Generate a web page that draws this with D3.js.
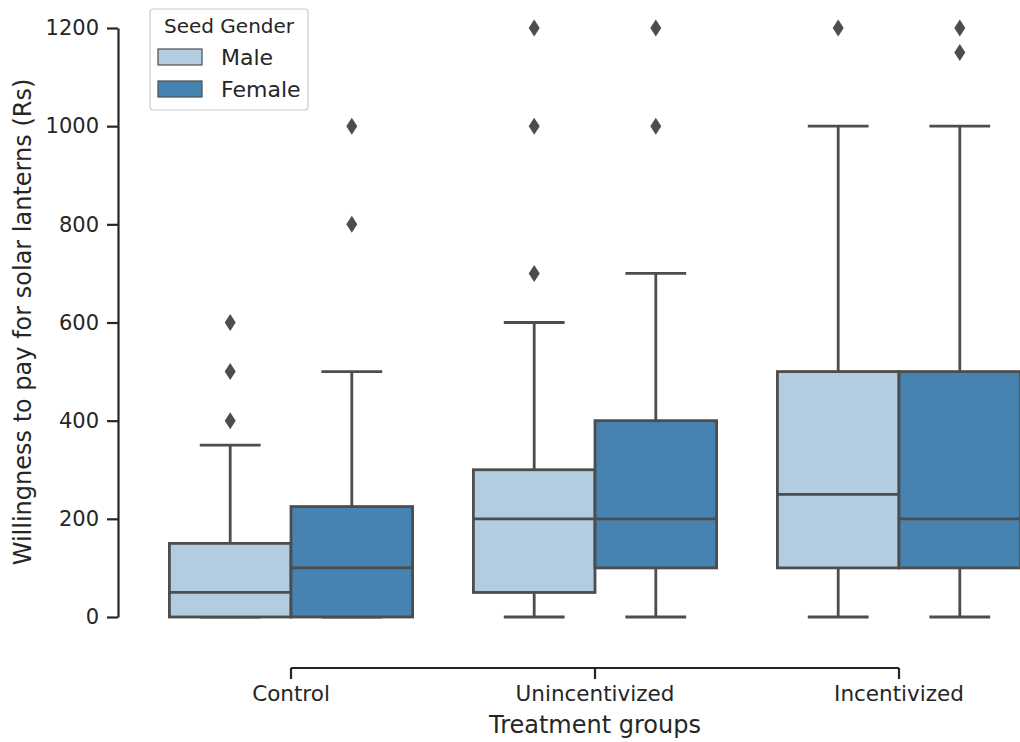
<!DOCTYPE html>
<html>
<head>
<meta charset="utf-8">
<script src="https://cdn.jsdelivr.net/npm/d3@7"></script>
<style>
  body { margin: 0; background: #fff; }
  text { font-family: "DejaVu Sans", sans-serif; fill: #262626; }
</style>
</head>
<body>
<div id="chart"></div>
<script>
var groups  = ["Control", "Unincentivized", "Incentivized"];
var genders = ["Male", "Female"];
var colors  = ["#b3cde0", "#4783b1"];
var yTicks  = [0, 200, 400, 600, 800, 1000, 1200];

// one entry per group, [Male, Female]
var q1        = [[0, 0],     [50, 100],  [100, 100]];
var medians   = [[50, 100],  [200, 200], [250, 200]];
var q3        = [[150, 225], [300, 400], [500, 500]];
var whiskLow  = [[0, 0],     [0, 0],     [0, 0]];
var whiskHigh = [[350, 500], [600, 700], [1000, 1000]];
var outliers  = [
  [[400, 500, 600], [800, 1000]],
  [[700, 1000, 1200], [1000, 1200]],
  [[1200], [1150, 1200]]
];

var W = 1020, H = 742;
var lineCol = "#4d4d4d";
var lw = 2.8;

var svg = d3.select("#chart").append("svg")
  .attr("width", W)
  .attr("height", H);

var x = d3.scaleBand()
  .domain(groups)
  .range([139, 1051])
  .paddingInner(0);

var xHue = d3.scaleBand()
  .domain(genders)
  .range([0, x.bandwidth()])
  .paddingInner(0)
  .paddingOuter(0.25);

var y = d3.scaleLinear()
  .domain([0, 1200])
  .range([617, 28]);

// boxes
var boxes = [];
groups.forEach(function(g, i) {
  genders.forEach(function(s, j) {
    boxes.push({
      group: g, gender: s, color: colors[j],
      q1: q1[i][j], med: medians[i][j], q3: q3[i][j],
      lo: whiskLow[i][j], hi: whiskHigh[i][j], out: outliers[i][j]
    });
  });
});

var bw = xHue.bandwidth();

var box = svg.append("g").selectAll("g")
  .data(boxes)
  .enter()
  .append("g")
    .attr("transform", function(d) {
      return "translate(" + (x(d.group) + xHue(d.gender)) + ",0)";
    });

// whiskers
box.append("line")
  .attr("x1", bw / 2).attr("x2", bw / 2)
  .attr("y1", function(d) { return y(d.q3); })
  .attr("y2", function(d) { return y(d.hi); });
box.append("line")
  .attr("x1", bw / 2).attr("x2", bw / 2)
  .attr("y1", function(d) { return y(d.q1); })
  .attr("y2", function(d) { return y(d.lo); });
// caps
box.append("line")
  .attr("x1", bw / 4).attr("x2", bw * 3 / 4)
  .attr("y1", function(d) { return y(d.hi); })
  .attr("y2", function(d) { return y(d.hi); });
box.append("line")
  .attr("x1", bw / 4).attr("x2", bw * 3 / 4)
  .attr("y1", function(d) { return y(d.lo); })
  .attr("y2", function(d) { return y(d.lo); });

box.selectAll("line")
  .style("stroke", lineCol)
  .style("stroke-width", lw);

box.append("rect")
  .attr("x", 0)
  .attr("width", bw)
  .attr("y", function(d) { return y(d.q3); })
  .attr("height", function(d) { return y(d.q1) - y(d.q3); })
  .style("fill", function(d) { return d.color; })
  .style("stroke", lineCol)
  .style("stroke-width", lw);

box.append("line")
  .attr("x1", 0).attr("x2", bw)
  .attr("y1", function(d) { return y(d.med); })
  .attr("y2", function(d) { return y(d.med); })
  .style("stroke", lineCol)
  .style("stroke-width", lw);

// outliers (thin diamonds)
box.selectAll("path.out")
  .data(function(d) { return d.out; })
  .enter()
  .append("path")
    .attr("class", "out")
    .attr("d", function(v) {
      var cx = bw / 2, cy = y(v);
      return "M" + cx + "," + (cy - 8.5) + "L" + (cx + 5.5) + "," + cy +
             "L" + cx + "," + (cy + 8.5) + "L" + (cx - 5.5) + "," + cy + "Z";
    })
    .style("fill", lineCol);

// y axis (trimmed spine)
var yAxis = svg.append("g")
  .attr("transform", "translate(118,0)")
  .call(d3.axisLeft(y).tickValues(yTicks).tickFormat(d3.format("d"))
    .tickSize(11).tickPadding(8).tickSizeOuter(0));
yAxis.select(".domain").style("stroke", "#262626").style("stroke-width", 2.2);
yAxis.selectAll(".tick line").style("stroke", "#262626").style("stroke-width", 2.2);
yAxis.selectAll(".tick text").style("font-size", "21px").style("fill", "#262626")
  .attr("font-family", "DejaVu Sans");

// x axis (trimmed spine)
var xAxis = svg.append("g")
  .attr("transform", "translate(0,668)")
  .call(d3.axisBottom(x).tickSize(11).tickPadding(7).tickSizeOuter(0));
xAxis.select(".domain")
  .attr("d", "M" + (x(groups[0]) + x.bandwidth() / 2) + ",0H" + (x(groups[2]) + x.bandwidth() / 2))
  .style("stroke", "#262626").style("stroke-width", 2.2);
xAxis.selectAll(".tick line").style("stroke", "#262626").style("stroke-width", 2.2);
xAxis.selectAll(".tick text").style("font-size", "21.5px").style("fill", "#262626")
  .attr("font-family", "DejaVu Sans");

// axis labels
svg.append("text")
  .attr("x", 595)
  .attr("y", 733)
  .attr("text-anchor", "middle")
  .style("font-size", "24px")
  .text("Treatment groups");

svg.append("text")
  .attr("transform", "translate(31,322) rotate(-90)")
  .attr("text-anchor", "middle")
  .style("font-size", "24px")
  .text("Willingness to pay for solar lanterns (Rs)");

// legend
var legend = svg.append("g").attr("transform", "translate(150,9)");
legend.append("rect")
  .attr("width", 158).attr("height", 101)
  .attr("rx", 3)
  .style("fill", "#fff")
  .style("stroke", "#cccccc")
  .style("stroke-width", 1.2);
legend.append("text")
  .attr("x", 79).attr("y", 24)
  .attr("text-anchor", "middle")
  .style("font-size", "20px")
  .text("Seed Gender");

var item = legend.selectAll("g.item")
  .data(genders)
  .enter()
  .append("g")
    .attr("class", "item")
    .attr("transform", function(d, i) { return "translate(8," + (40 + i * 32) + ")"; });
item.append("rect")
  .attr("width", 44).attr("height", 16)
  .style("fill", function(d, i) { return colors[i]; })
  .style("stroke", lineCol)
  .style("stroke-width", 1.2);
item.append("text")
  .attr("x", 63).attr("y", 16)
  .style("font-size", "22px")
  .text(function(d) { return d; });
</script>
</body>
</html>
